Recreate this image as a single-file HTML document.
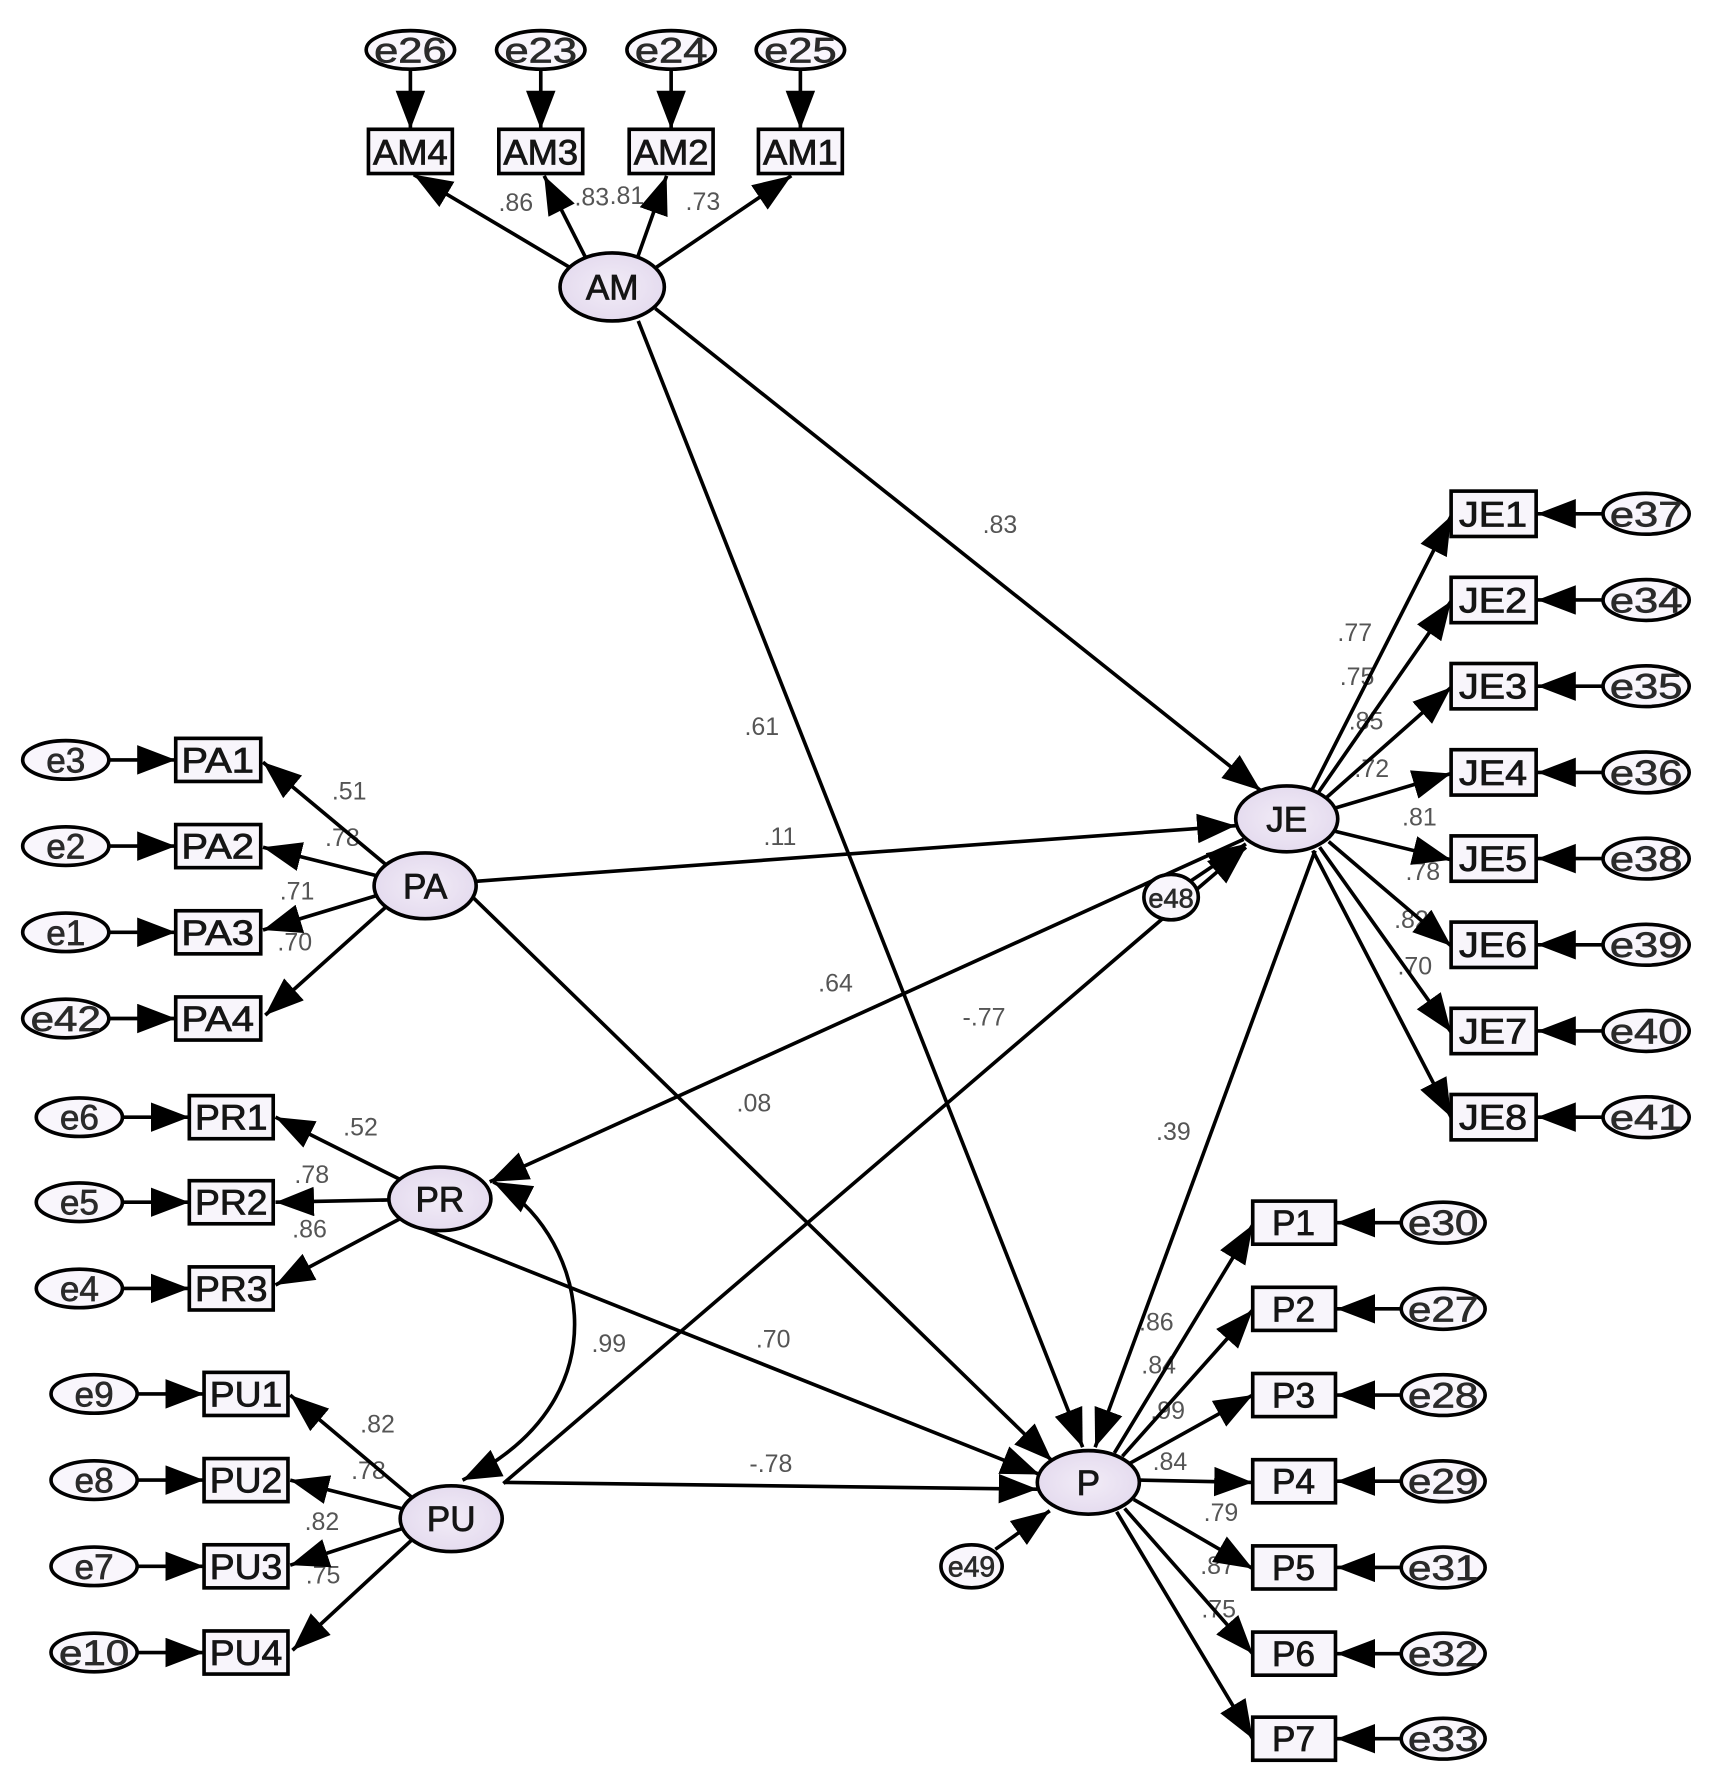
<!DOCTYPE html>
<html><head><meta charset="utf-8"><style>
html,body{margin:0;padding:0;background:#fff;}
svg{display:block;}
.lbl{font-family:"Liberation Sans",Arial,sans-serif;font-size:22px;fill:#555;text-anchor:middle;}
.nt{font-family:"Liberation Sans",Arial,sans-serif;font-size:31px;fill:#151515;stroke:#151515;stroke-width:0.7;text-anchor:middle;}
.et{font-family:"Liberation Sans",Arial,sans-serif;font-size:31px;fill:#2a2a2a;stroke:#2a2a2a;stroke-width:0.6;text-anchor:middle;}
.ln{stroke:#000;stroke-width:3.2;fill:none;marker-end:url(#ah);}
.bx{fill:#f8f5fb;stroke:#000;stroke-width:3.2;}
.ee{fill:#f9f6fc;stroke:#000;stroke-width:3.2;}
.lv{fill:url(#lg);stroke:#000;stroke-width:3.2;}
</style></head><body>
<svg width="1713" height="1775" viewBox="0 0 1511 1565" preserveAspectRatio="none" xmlns="http://www.w3.org/2000/svg">
<defs>
<marker id="ah" markerUnits="userSpaceOnUse" markerWidth="36" markerHeight="28" refX="34" refY="13" orient="auto"><path d="M0,0 L34,13 L0,26 z" fill="#000"/></marker>
<marker id="ahs" markerUnits="userSpaceOnUse" markerWidth="36" markerHeight="28" refX="34" refY="13" orient="auto-start-reverse"><path d="M0,0 L34,13 L0,26 z" fill="#000"/></marker>
<radialGradient id="lg" cx="50%" cy="50%" r="60%"><stop offset="0" stop-color="#f2ecf7"/><stop offset="1" stop-color="#e2d8ed"/></radialGradient>
</defs>
<rect width="1511" height="1565" fill="#fff"/>

<!-- labels -->
<g class="lbl">
<text x="455" y="186">.86</text><text x="522" y="181">.83</text><text x="553" y="180">.81</text><text x="620" y="185">.73</text>
<text x="882" y="470">.83</text><text x="672" y="648">.61</text><text x="688" y="745">.11</text>
<text x="737" y="874">.64</text><text x="868" y="904">-.77</text><text x="665" y="980">.08</text>
<text x="1035" y="1005">.39</text><text x="537" y="1192">.99</text><text x="682" y="1188">.70</text><text x="680" y="1298">-.78</text>
<text x="308" y="705">.51</text><text x="302" y="746">.78</text><text x="262" y="793">.71</text><text x="260" y="838">.70</text>
<text x="318" y="1001">.52</text><text x="275" y="1043">.78</text><text x="273" y="1091">.86</text>
<text x="333" y="1263">.82</text><text x="325" y="1304">.78</text><text x="284" y="1349">.82</text><text x="285" y="1396">.75</text>
<text x="1195" y="565">.77</text><text x="1197" y="604">.75</text><text x="1205" y="643">.85</text><text x="1210" y="685">.72</text>
<text x="1252" y="728">.81</text><text x="1255" y="776">.78</text><text x="1245" y="818">.82</text><text x="1248" y="859">.70</text>
<text x="1020" y="1173">.86</text><text x="1022" y="1211">.84</text><text x="1030" y="1251">.99</text><text x="1032" y="1296">.84</text>
<text x="1077" y="1341">.79</text><text x="1074" y="1388">.87</text><text x="1075" y="1426">.75</text>
</g>

<!-- structural lines -->
<line class="ln" x1="578" y1="272" x2="1112" y2="697"/>
<line class="ln" x1="563" y1="283" x2="955" y2="1276"/>
<line class="ln" x1="1160" y1="750" x2="966" y2="1276"/>
<line class="ln" x1="420" y1="777" x2="1090" y2="728"/>
<line class="ln" x1="1097" y1="740" x2="432" y2="1042"/>
<line class="ln" x1="444" y1="1308" x2="1099" y2="747"/>
<line class="ln" x1="418" y1="792" x2="928" y2="1288"/>
<line class="ln" x1="372" y1="1083" x2="917" y2="1300"/>
<line class="ln" x1="445" y1="1307" x2="915" y2="1313"/>
<path d="M435,1042 C510,1080 560,1230 408,1305" stroke="#000" stroke-width="3.2" fill="none" marker-start="url(#ahs)" marker-end="url(#ahs)"/>

<!-- AM loadings -->
<line class="ln" x1="362" y1="61" x2="362" y2="114"/>
<line class="ln" x1="477" y1="61" x2="477" y2="114"/>
<line class="ln" x1="592" y1="61" x2="592" y2="114"/>
<line class="ln" x1="706" y1="61" x2="706" y2="114"/>
<line class="ln" x1="503" y1="236" x2="365" y2="154"/>
<line class="ln" x1="517" y1="228" x2="480" y2="155"/>
<line class="ln" x1="562" y1="228" x2="588" y2="155"/>
<line class="ln" x1="577" y1="237" x2="698" y2="155"/>

<!-- JE loadings -->
<line class="ln" x1="1157" y1="697" x2="1280" y2="455"/>
<line class="ln" x1="1162" y1="700" x2="1280" y2="530"/>
<line class="ln" x1="1168" y1="705" x2="1280" y2="606"/>
<line class="ln" x1="1176" y1="713" x2="1280" y2="682"/>
<line class="ln" x1="1178" y1="733" x2="1280" y2="758"/>
<line class="ln" x1="1172" y1="742" x2="1280" y2="834"/>
<line class="ln" x1="1164" y1="747" x2="1280" y2="910"/>
<line class="ln" x1="1158" y1="750" x2="1280" y2="985"/>
<line class="ln" x1="1414" y1="453" x2="1356" y2="453"/>
<line class="ln" x1="1414" y1="529" x2="1356" y2="529"/>
<line class="ln" x1="1414" y1="605" x2="1356" y2="605"/>
<line class="ln" x1="1414" y1="681" x2="1356" y2="681"/>
<line class="ln" x1="1414" y1="757" x2="1356" y2="757"/>
<line class="ln" x1="1414" y1="833" x2="1356" y2="833"/>
<line class="ln" x1="1414" y1="909" x2="1356" y2="909"/>
<line class="ln" x1="1414" y1="985" x2="1356" y2="985"/>

<!-- P loadings -->
<line class="ln" x1="983" y1="1281" x2="1105" y2="1080"/>
<line class="ln" x1="990" y1="1284" x2="1105" y2="1155"/>
<line class="ln" x1="997" y1="1290" x2="1105" y2="1230"/>
<line class="ln" x1="1005" y1="1305" x2="1105" y2="1307"/>
<line class="ln" x1="1000" y1="1322" x2="1105" y2="1383"/>
<line class="ln" x1="992" y1="1330" x2="1105" y2="1458"/>
<line class="ln" x1="985" y1="1333" x2="1105" y2="1533"/>
<line class="ln" x1="1236" y1="1078" x2="1179" y2="1078"/>
<line class="ln" x1="1236" y1="1154" x2="1179" y2="1154"/>
<line class="ln" x1="1236" y1="1230" x2="1179" y2="1230"/>
<line class="ln" x1="1236" y1="1306" x2="1179" y2="1306"/>
<line class="ln" x1="1236" y1="1382" x2="1179" y2="1382"/>
<line class="ln" x1="1236" y1="1458" x2="1179" y2="1458"/>
<line class="ln" x1="1236" y1="1533" x2="1179" y2="1533"/>
<line class="ln" x1="878" y1="1366" x2="926" y2="1332"/>

<!-- PA loadings -->
<line class="ln" x1="340" y1="762" x2="232" y2="672"/>
<line class="ln" x1="332" y1="772" x2="232" y2="747"/>
<line class="ln" x1="331" y1="790" x2="232" y2="820"/>
<line class="ln" x1="340" y1="800" x2="234" y2="895"/>
<line class="ln" x1="96" y1="670" x2="155" y2="670"/>
<line class="ln" x1="96" y1="746" x2="155" y2="746"/>
<line class="ln" x1="96" y1="822" x2="155" y2="822"/>
<line class="ln" x1="96" y1="898" x2="155" y2="898"/>

<!-- PR loadings -->
<line class="ln" x1="353" y1="1040" x2="243" y2="985"/>
<line class="ln" x1="343" y1="1058" x2="243" y2="1060"/>
<line class="ln" x1="352" y1="1075" x2="243" y2="1133"/>
<line class="ln" x1="108" y1="985" x2="167" y2="985"/>
<line class="ln" x1="108" y1="1060" x2="167" y2="1060"/>
<line class="ln" x1="108" y1="1136" x2="167" y2="1136"/>

<!-- PU loadings -->
<line class="ln" x1="363" y1="1320" x2="256" y2="1230"/>
<line class="ln" x1="354" y1="1330" x2="256" y2="1305"/>
<line class="ln" x1="354" y1="1348" x2="256" y2="1380"/>
<line class="ln" x1="363" y1="1358" x2="258" y2="1455"/>
<line class="ln" x1="121" y1="1229" x2="180" y2="1229"/>
<line class="ln" x1="121" y1="1305" x2="180" y2="1305"/>
<line class="ln" x1="121" y1="1381" x2="180" y2="1381"/>
<line class="ln" x1="121" y1="1457" x2="180" y2="1457"/>

<!-- latent ellipses -->
<ellipse class="lv" cx="540" cy="253" rx="46" ry="30"/><text class="nt" x="540" y="264">AM</text>
<ellipse class="lv" cx="1135" cy="722" rx="45" ry="29"/><text class="nt" x="1135" y="733">JE</text>
<ellipse class="lv" cx="960" cy="1307" rx="45" ry="28"/><text class="nt" x="960" y="1318">P</text>
<ellipse class="lv" cx="375" cy="781" rx="45" ry="29"/><text class="nt" x="375" y="792">PA</text>
<ellipse class="lv" cx="388" cy="1057" rx="45" ry="28"/><text class="nt" x="388" y="1068">PR</text>
<ellipse class="lv" cx="398" cy="1339" rx="45" ry="29"/><text class="nt" x="398" y="1350">PU</text>

<!-- e48 / e49 -->
<ellipse class="ee" cx="1033" cy="791" rx="24" ry="20"/><text class="et" x="1033" y="800" style="font-size:24px">e48</text>
<line class="ln" x1="1050" y1="777" x2="1099" y2="744"/>
<ellipse class="ee" cx="857" cy="1381" rx="27" ry="19"/><text class="et" x="857" y="1390" style="font-size:25px">e49</text>

<!-- AM boxes -->
<g>
<rect class="bx" x="325" y="114" width="74" height="39"/><text class="nt" x="362" y="145" textLength="66" lengthAdjust="spacingAndGlyphs">AM4</text>
<rect class="bx" x="440" y="114" width="74" height="39"/><text class="nt" x="477" y="145" textLength="66" lengthAdjust="spacingAndGlyphs">AM3</text>
<rect class="bx" x="555" y="114" width="74" height="39"/><text class="nt" x="592" y="145" textLength="66" lengthAdjust="spacingAndGlyphs">AM2</text>
<rect class="bx" x="669" y="114" width="74" height="39"/><text class="nt" x="706" y="145" textLength="66" lengthAdjust="spacingAndGlyphs">AM1</text>
</g>
<g>
<ellipse class="ee" cx="362" cy="44" rx="39" ry="17"/><text class="et" x="362" y="55" textLength="64" lengthAdjust="spacingAndGlyphs">e26</text>
<ellipse class="ee" cx="477" cy="44" rx="39" ry="17"/><text class="et" x="477" y="55" textLength="64" lengthAdjust="spacingAndGlyphs">e23</text>
<ellipse class="ee" cx="592" cy="44" rx="39" ry="17"/><text class="et" x="592" y="55" textLength="64" lengthAdjust="spacingAndGlyphs">e24</text>
<ellipse class="ee" cx="706" cy="44" rx="39" ry="17"/><text class="et" x="706" y="55" textLength="64" lengthAdjust="spacingAndGlyphs">e25</text>
</g>

<!-- JE boxes -->
<g>
<rect class="bx" x="1280" y="433" width="75" height="40"/><text class="nt" x="1317" y="464" textLength="60" lengthAdjust="spacingAndGlyphs">JE1</text>
<rect class="bx" x="1280" y="509" width="75" height="40"/><text class="nt" x="1317" y="540" textLength="60" lengthAdjust="spacingAndGlyphs">JE2</text>
<rect class="bx" x="1280" y="585" width="75" height="40"/><text class="nt" x="1317" y="616" textLength="60" lengthAdjust="spacingAndGlyphs">JE3</text>
<rect class="bx" x="1280" y="661" width="75" height="40"/><text class="nt" x="1317" y="692" textLength="60" lengthAdjust="spacingAndGlyphs">JE4</text>
<rect class="bx" x="1280" y="737" width="75" height="40"/><text class="nt" x="1317" y="768" textLength="60" lengthAdjust="spacingAndGlyphs">JE5</text>
<rect class="bx" x="1280" y="813" width="75" height="40"/><text class="nt" x="1317" y="844" textLength="60" lengthAdjust="spacingAndGlyphs">JE6</text>
<rect class="bx" x="1280" y="889" width="75" height="40"/><text class="nt" x="1317" y="920" textLength="60" lengthAdjust="spacingAndGlyphs">JE7</text>
<rect class="bx" x="1280" y="965" width="75" height="40"/><text class="nt" x="1317" y="996" textLength="60" lengthAdjust="spacingAndGlyphs">JE8</text>
</g>
<g>
<ellipse class="ee" cx="1452" cy="453" rx="38" ry="18"/><text class="et" x="1452" y="464" textLength="64" lengthAdjust="spacingAndGlyphs">e37</text>
<ellipse class="ee" cx="1452" cy="529" rx="38" ry="18"/><text class="et" x="1452" y="540" textLength="64" lengthAdjust="spacingAndGlyphs">e34</text>
<ellipse class="ee" cx="1452" cy="605" rx="38" ry="18"/><text class="et" x="1452" y="616" textLength="64" lengthAdjust="spacingAndGlyphs">e35</text>
<ellipse class="ee" cx="1452" cy="681" rx="38" ry="18"/><text class="et" x="1452" y="692" textLength="64" lengthAdjust="spacingAndGlyphs">e36</text>
<ellipse class="ee" cx="1452" cy="757" rx="38" ry="18"/><text class="et" x="1452" y="768" textLength="64" lengthAdjust="spacingAndGlyphs">e38</text>
<ellipse class="ee" cx="1452" cy="833" rx="38" ry="18"/><text class="et" x="1452" y="844" textLength="64" lengthAdjust="spacingAndGlyphs">e39</text>
<ellipse class="ee" cx="1452" cy="909" rx="38" ry="18"/><text class="et" x="1452" y="920" textLength="64" lengthAdjust="spacingAndGlyphs">e40</text>
<ellipse class="ee" cx="1452" cy="985" rx="38" ry="18"/><text class="et" x="1452" y="996" textLength="64" lengthAdjust="spacingAndGlyphs">e41</text>
</g>

<!-- P boxes -->
<g>
<rect class="bx" x="1105" y="1059" width="73" height="38"/><text class="nt" x="1141" y="1089">P1</text>
<rect class="bx" x="1105" y="1135" width="73" height="38"/><text class="nt" x="1141" y="1165">P2</text>
<rect class="bx" x="1105" y="1211" width="73" height="38"/><text class="nt" x="1141" y="1241">P3</text>
<rect class="bx" x="1105" y="1287" width="73" height="38"/><text class="nt" x="1141" y="1317">P4</text>
<rect class="bx" x="1105" y="1363" width="73" height="38"/><text class="nt" x="1141" y="1393">P5</text>
<rect class="bx" x="1105" y="1439" width="73" height="38"/><text class="nt" x="1141" y="1469">P6</text>
<rect class="bx" x="1105" y="1514" width="73" height="38"/><text class="nt" x="1141" y="1544">P7</text>
</g>
<g>
<ellipse class="ee" cx="1273" cy="1078" rx="37" ry="18"/><text class="et" x="1273" y="1089" textLength="62" lengthAdjust="spacingAndGlyphs">e30</text>
<ellipse class="ee" cx="1273" cy="1154" rx="37" ry="18"/><text class="et" x="1273" y="1165" textLength="62" lengthAdjust="spacingAndGlyphs">e27</text>
<ellipse class="ee" cx="1273" cy="1230" rx="37" ry="18"/><text class="et" x="1273" y="1241" textLength="62" lengthAdjust="spacingAndGlyphs">e28</text>
<ellipse class="ee" cx="1273" cy="1306" rx="37" ry="18"/><text class="et" x="1273" y="1317" textLength="62" lengthAdjust="spacingAndGlyphs">e29</text>
<ellipse class="ee" cx="1273" cy="1382" rx="37" ry="18"/><text class="et" x="1273" y="1393" textLength="62" lengthAdjust="spacingAndGlyphs">e31</text>
<ellipse class="ee" cx="1273" cy="1458" rx="37" ry="18"/><text class="et" x="1273" y="1469" textLength="62" lengthAdjust="spacingAndGlyphs">e32</text>
<ellipse class="ee" cx="1273" cy="1533" rx="37" ry="18"/><text class="et" x="1273" y="1544" textLength="62" lengthAdjust="spacingAndGlyphs">e33</text>
</g>

<!-- PA boxes -->
<g>
<rect class="bx" x="155" y="651" width="75" height="38"/><text class="nt" x="192" y="681" textLength="64" lengthAdjust="spacingAndGlyphs">PA1</text>
<rect class="bx" x="155" y="727" width="75" height="38"/><text class="nt" x="192" y="757" textLength="64" lengthAdjust="spacingAndGlyphs">PA2</text>
<rect class="bx" x="155" y="803" width="75" height="38"/><text class="nt" x="192" y="833" textLength="64" lengthAdjust="spacingAndGlyphs">PA3</text>
<rect class="bx" x="155" y="879" width="75" height="38"/><text class="nt" x="192" y="909" textLength="64" lengthAdjust="spacingAndGlyphs">PA4</text>
<ellipse class="ee" cx="58" cy="670" rx="38" ry="17"/><text class="et" x="58" y="681">e3</text>
<ellipse class="ee" cx="58" cy="746" rx="38" ry="17"/><text class="et" x="58" y="757">e2</text>
<ellipse class="ee" cx="58" cy="822" rx="38" ry="17"/><text class="et" x="58" y="833">e1</text>
<ellipse class="ee" cx="58" cy="898" rx="38" ry="17"/><text class="et" x="58" y="909" textLength="62" lengthAdjust="spacingAndGlyphs">e42</text>
</g>

<!-- PR boxes -->
<g>
<rect class="bx" x="167" y="966" width="74" height="38"/><text class="nt" x="204" y="996" textLength="64" lengthAdjust="spacingAndGlyphs">PR1</text>
<rect class="bx" x="167" y="1041" width="74" height="38"/><text class="nt" x="204" y="1071" textLength="64" lengthAdjust="spacingAndGlyphs">PR2</text>
<rect class="bx" x="167" y="1117" width="74" height="38"/><text class="nt" x="204" y="1147" textLength="64" lengthAdjust="spacingAndGlyphs">PR3</text>
<ellipse class="ee" cx="70" cy="985" rx="38" ry="17"/><text class="et" x="70" y="996">e6</text>
<ellipse class="ee" cx="70" cy="1060" rx="38" ry="17"/><text class="et" x="70" y="1071">e5</text>
<ellipse class="ee" cx="70" cy="1136" rx="38" ry="17"/><text class="et" x="70" y="1147">e4</text>
</g>

<!-- PU boxes -->
<g>
<rect class="bx" x="180" y="1210" width="74" height="38"/><text class="nt" x="217" y="1240" textLength="64" lengthAdjust="spacingAndGlyphs">PU1</text>
<rect class="bx" x="180" y="1286" width="74" height="38"/><text class="nt" x="217" y="1316" textLength="64" lengthAdjust="spacingAndGlyphs">PU2</text>
<rect class="bx" x="180" y="1362" width="74" height="38"/><text class="nt" x="217" y="1392" textLength="64" lengthAdjust="spacingAndGlyphs">PU3</text>
<rect class="bx" x="180" y="1438" width="74" height="38"/><text class="nt" x="217" y="1468" textLength="64" lengthAdjust="spacingAndGlyphs">PU4</text>
<ellipse class="ee" cx="83" cy="1229" rx="38" ry="17"/><text class="et" x="83" y="1240">e9</text>
<ellipse class="ee" cx="83" cy="1305" rx="38" ry="17"/><text class="et" x="83" y="1316">e8</text>
<ellipse class="ee" cx="83" cy="1381" rx="38" ry="17"/><text class="et" x="83" y="1392">e7</text>
<ellipse class="ee" cx="83" cy="1457" rx="38" ry="17"/><text class="et" x="83" y="1468" textLength="62" lengthAdjust="spacingAndGlyphs">e10</text>
</g>
</svg>
</body></html>
